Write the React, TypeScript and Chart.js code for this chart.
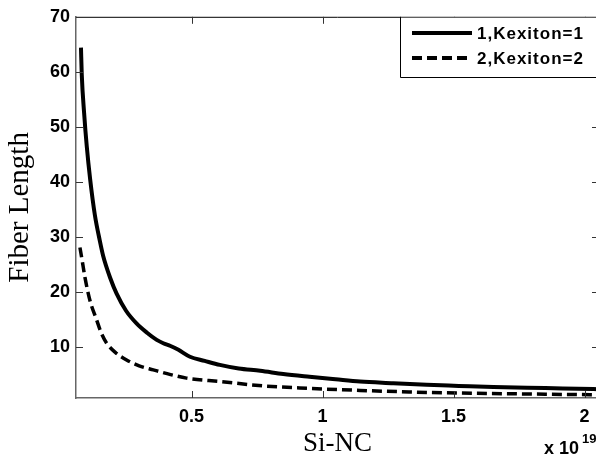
import React, { useEffect, useRef } from "react";
import { Chart, registerables } from "chart.js";

Chart.register(...registerables);

// ---- Data (Si-NC in units of 1e19) ----
const siNC1 = [0.078, 0.081, 0.09, 0.1, 0.113, 0.131, 0.15, 0.163, 0.19, 0.214, 0.25, 0.29, 0.33, 0.367, 0.392, 0.42, 0.45, 0.494, 0.55, 0.608, 0.68, 0.762, 0.85, 0.95, 1.05, 1.143, 1.27, 1.397, 1.52, 1.652, 1.85, 2.033, 2.06];
const fiberLength1 = [64.4, 59.5, 52.5, 46.5, 40.5, 34, 29.3, 26.5, 22.5, 19.7, 16.6, 14.3, 12.6, 11.3, 10.7, 10.2, 9.5, 8.25, 7.5, 6.76, 6.1, 5.7, 5.1, 4.6, 4.15, 3.75, 3.45, 3.15, 2.95, 2.74, 2.55, 2.37, 2.35];
const siNC2 = [0.074, 0.084, 0.093, 0.112, 0.138, 0.155, 0.176, 0.21, 0.252, 0.3, 0.354, 0.42, 0.481, 0.608, 0.774, 0.95, 1.143, 1.33, 1.525, 1.75, 2.03, 2.06];
const fiberLength2 = [28.1, 25.3, 22.7, 18.5, 14.9, 12.6, 10.7, 9.0, 7.66, 6.6, 5.86, 5.0, 4.36, 3.75, 2.95, 2.5, 2.13, 1.85, 1.65, 1.5, 1.35, 1.34];

const seriesLabels = ["1,Kexiton=1", "2,Kexiton=2"];
const xTickValues = [0.5, 1, 1.5, 2];
const yTickValues = [10, 20, 30, 40, 50, 60, 70];
const xTitle = "Si-NC";
const yTitle = "Fiber Length";
const xMultiplierText = "x 10";
const xMultiplierExp = "19";

const X_MIN = 0.059;
const X_MAX = 2.055;
const Y_MIN = 0.75;
const Y_MAX = 70;

const SANS = "'Liberation Sans', Arial, sans-serif";
const SERIF = "'Liberation Serif', 'Times New Roman', serif";

const framePlugin = {
  id: "matlabFrame",
  afterDraw(chart: any) {
    const { ctx, chartArea: a, scales } = chart;
    const xs = scales.x;
    const ys = scales.y;
    const W = chart.width;
    ctx.save();

    // top spine
    ctx.strokeStyle = "#000";
    ctx.lineWidth = 1;
    ctx.beginPath();
    ctx.moveTo(a.left, a.top + 0.5);
    ctx.lineTo(a.right, a.top + 0.5);
    ctx.stroke();

    // inward tick marks
    ctx.strokeStyle = "#333";
    ctx.lineWidth = 1;
    const TL = 7;
    ctx.beginPath();
    xs.ticks.forEach((t: any) => {
      const px = Math.round(xs.getPixelForValue(t.value)) + 0.5;
      ctx.moveTo(px, a.bottom);
      ctx.lineTo(px, a.bottom - TL);
      ctx.moveTo(px, a.top);
      ctx.lineTo(px, a.top + TL);
    });
    ys.ticks.forEach((t: any) => {
      const py = Math.round(ys.getPixelForValue(t.value)) + 0.5;
      ctx.moveTo(a.left, py);
      ctx.lineTo(a.left + TL, py);
      ctx.moveTo(a.right, py);
      ctx.lineTo(a.right - TL, py);
    });
    ctx.stroke();

    // legend box
    const lx = 400.5;
    const ly0 = a.top;
    const ly1 = 77.5;
    ctx.fillStyle = "#fff";
    ctx.fillRect(lx, ly0 + 1, W - lx, ly1 - ly0 - 1);
    ctx.strokeStyle = "#000";
    ctx.lineWidth = 1;
    ctx.beginPath();
    ctx.moveTo(lx, ly0);
    ctx.lineTo(lx, ly1);
    ctx.lineTo(W, ly1);
    ctx.stroke();

    const rows = [33, 58];
    chart.data.datasets.forEach((ds: any, i: number) => {
      const y = rows[i];
      ctx.strokeStyle = ds.borderColor;
      ctx.lineWidth = 4;
      ctx.setLineDash(ds.borderDash || []);
      ctx.beginPath();
      ctx.moveTo(412, y);
      ctx.lineTo(472, y);
      ctx.stroke();
      ctx.setLineDash([]);
      ctx.fillStyle = "#000";
      ctx.font = `bold 17px ${SANS}`;
      (ctx as any).letterSpacing = "1px";
      ctx.textAlign = "left";
      ctx.textBaseline = "middle";
      ctx.fillText(ds.label, 477, y + 1);
      (ctx as any).letterSpacing = "0px";
    });

    // x multiplier
    ctx.fillStyle = "#000";
    ctx.textAlign = "left";
    ctx.textBaseline = "alphabetic";
    ctx.font = `bold 18px ${SANS}`;
    ctx.fillText(xMultiplierText, 544, 454);
    ctx.font = `bold 13px ${SANS}`;
    ctx.fillText(xMultiplierExp, 582, 443);

    ctx.restore();
  },
};

export default function App() {
  const ref = useRef<HTMLCanvasElement | null>(null);

  useEffect(() => {
    if (!ref.current) return;
    const chart = new Chart(ref.current, {
      type: "line",
      data: {
        datasets: [
          {
            label: seriesLabels[0],
            data: siNC1.map((x, i) => ({ x, y: fiberLength1[i] })),
            borderColor: "#000",
            borderWidth: 4,
            pointRadius: 0,
            cubicInterpolationMode: "monotone",
            fill: false,
          },
          {
            label: seriesLabels[1],
            data: siNC2.map((x, i) => ({ x, y: fiberLength2[i] })),
            borderColor: "#000",
            borderWidth: 3.5,
            borderDash: [10, 5],
            pointRadius: 0,
            cubicInterpolationMode: "monotone",
            fill: false,
          },
        ],
      },
      options: {
        responsive: false,
        animation: false,
        devicePixelRatio: 1,
        layout: { padding: { top: 14, right: 1, left: 0, bottom: 0 } },
        plugins: {
          legend: { display: false },
          tooltip: { enabled: false },
        },
        scales: {
          x: {
            type: "linear",
            min: X_MIN,
            max: X_MAX,
            afterBuildTicks: (s: any) => {
              s.ticks = xTickValues.map((v) => ({ value: v }));
            },
            afterFit: (s: any) => {
              s.height = 66;
            },
            grid: { display: false, drawTicks: false },
            border: { display: true, color: "#666", width: 1.5 },
            ticks: {
              padding: 8,
              color: "#000",
              font: { family: SANS, size: 18, weight: "bold" },
              maxRotation: 0,
              autoSkip: false,
              callback: (v: any) => String(v),
            },
            title: {
              display: true,
              text: xTitle,
              color: "#000",
              font: { family: SERIF, size: 27 },
              padding: { top: 0, bottom: 4 },
            },
          },
          y: {
            type: "linear",
            min: Y_MIN,
            max: Y_MAX,
            afterBuildTicks: (s: any) => {
              s.ticks = yTickValues.map((v) => ({ value: v }));
            },
            afterFit: (s: any) => {
              s.width = 76;
            },
            grid: { display: false, drawTicks: false },
            border: { display: true, color: "#666", width: 1.5 },
            ticks: {
              padding: 6,
              color: "#000",
              font: { family: SANS, size: 18, weight: "bold" },
              autoSkip: false,
              callback: (v: any) => String(v),
            },
            title: {
              display: true,
              text: yTitle,
              color: "#000",
              font: { family: SERIF, size: 29 },
              padding: { top: 3, bottom: 0 },
            },
          },
        },
      } as any,
      plugins: [framePlugin],
    });
    return () => chart.destroy();
  }, []);

  return (
    <div style={{ position: "fixed", left: 0, top: 0, width: 600, height: 464, background: "#fff" }}>
      <canvas ref={ref} width={600} height={464} style={{ display: "block", width: 600, height: 464 }} />
    </div>
  );
}
